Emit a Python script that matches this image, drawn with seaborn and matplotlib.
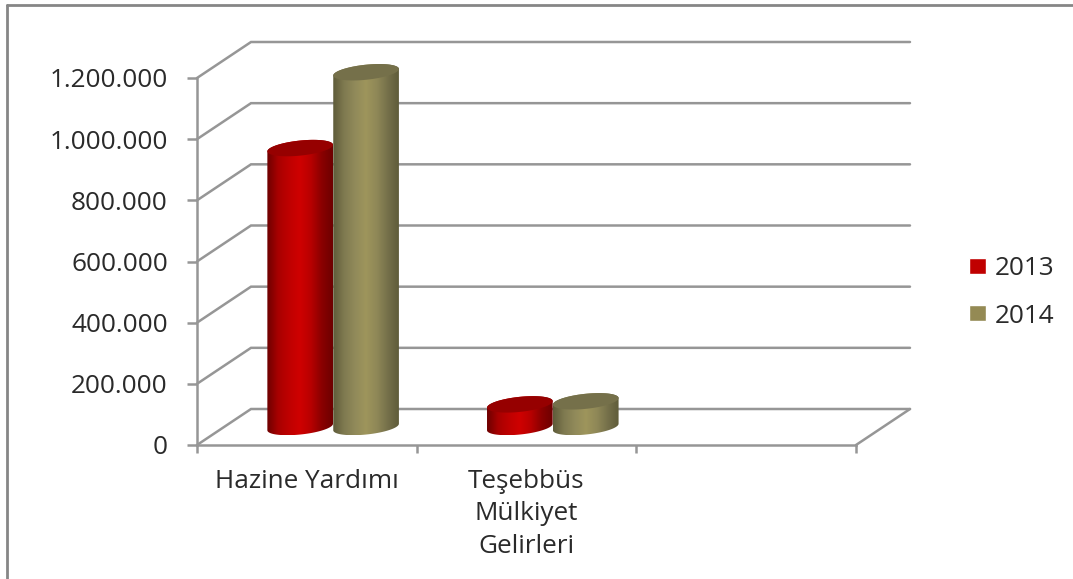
import numpy as np
import pandas as pd
import matplotlib
matplotlib.use("Agg")
import matplotlib.pyplot as plt
import seaborn as sns
from matplotlib.colors import LinearSegmentedColormap
from matplotlib.lines import Line2D
from matplotlib.patches import PathPatch, Polygon
from matplotlib.path import Path
from matplotlib.transforms import Affine2D

categories = ["Hazine Yardımı", "Teşebbüs\nMülkiyet\nGelirleri"]
blank_category = [""]
values_2013 = [912000, 74000]
values_2014 = [1160000, 84000]
series_names = ["2013", "2014"]
y_ticks = [0, 200000, 400000, 600000, 800000, 1000000, 1200000]
y_tick_labels = ["0", "200.000", "400.000", "600.000", "800.000", "1.000.000", "1.200.000"]

W, H = 1073, 579
GRID = "#969696"
TEXT = "#2a2a2a"
FS = 18.8
DEPTH_X, DEPTH_Y = 54, 36     # px depth of the fake 3-D floor
RADIUS, MINOR, TILT = 33, 7.5, np.deg2rad(6)
STYLE = {
    "2013": dict(base="#C00000", top="#960000",
                 ramp=["#6e0000", "#a80000", "#bf0000", "#cf0000", "#b80000", "#8a0000", "#6e0000"]),
    "2014": dict(base="#948A54", top="#75704A",
                 ramp=["#5f5c3a", "#7f7a50", "#918a5a", "#9e955c", "#8f8857", "#75704a", "#5f5c3a"]),
}

sns.set_theme(style="white")
plt.rcParams["font.family"] = ["Open Sans", "DejaVu Sans"]

fig = plt.figure(figsize=(W / 100, H / 100), dpi=100, facecolor="white")
ax = fig.add_axes([197 / W, (H - 445) / H, (856 - 197) / W, (445 - 78) / H])

df = pd.DataFrame({
    "category": categories * 2,
    "value": values_2013 + values_2014,
    "year": [series_names[0]] * len(categories) + [series_names[1]] * len(categories),
})
sns.barplot(data=df, x="category", y="value", hue="year",
            order=categories + blank_category, hue_order=series_names,
            palette=[STYLE[s]["base"] for s in series_names], saturation=1,
            width=0.6, gap=0.3, errorbar=None, ax=ax, zorder=3)

n = len(categories) + len(blank_category)
ax.set_xlim(-0.5, n - 0.5)
ax.set_ylim(y_ticks[0], y_ticks[-1])
ax.set_xlabel("")
ax.set_ylabel("")
ax.set_yticks(y_ticks)
ax.set_yticklabels(y_tick_labels, fontsize=FS, color=TEXT)
ax.set_xticks(range(n))
ax.set_xticklabels(categories + blank_category, fontsize=FS, color=TEXT, linespacing=1.4)
ax.set_xticks(np.arange(n + 1) - 0.5, minor=True)
ax.tick_params(axis="x", which="major", length=0, pad=17)
ax.tick_params(axis="x", which="minor", length=5.5, width=1.8, color=GRID, bottom=True)
ax.tick_params(axis="y", length=7, width=1.8, color=GRID, left=True, pad=14)
for side in ("top", "right"):
    ax.spines[side].set_visible(False)
for side in ("left", "bottom"):
    ax.spines[side].set_color(GRID)
    ax.spines[side].set_linewidth(1.8)

# overlay in pixel coordinates for the pseudo 3-D parts
ov = fig.add_axes([0, 0, 1, 1], zorder=5)
ov.set_xlim(0, W)
ov.set_ylim(H, 0)
ov.axis("off")
ov.patch.set_alpha(0)


def to_px(x, y):
    dx, dy = ax.transData.transform((x, y))
    return dx, H - dy


# walls: grid lines running back and then along the rear wall
x_left, _ = to_px(-0.5, 0)
x_right, y_floor = to_px(n - 0.5, 0)
for t in y_ticks:
    _, y = to_px(-0.5, t)
    ov.plot([x_left, x_left + DEPTH_X, x_right + DEPTH_X],
            [y, y - DEPTH_Y, y - DEPTH_Y], color=GRID, lw=1.8, zorder=1,
            solid_joinstyle="miter")
ov.plot([x_right, x_right + DEPTH_X], [y_floor, y_floor - DEPTH_Y],
        color=GRID, lw=1.8, zorder=1)


def ellipse_pts(cx, cy, t):
    px = cx + RADIUS * np.cos(t) * np.cos(TILT) - MINOR * np.sin(t) * np.sin(TILT)
    py = cy - (RADIUS * np.cos(t) * np.sin(TILT) + MINOR * np.sin(t) * np.cos(TILT))
    return np.column_stack([px, py])


t0 = np.arctan2(-MINOR * np.sin(TILT), RADIUS * np.cos(TILT))
z = 3
for name, container in zip(series_names, ax.containers):
    st = STYLE[name]
    cmap = LinearSegmentedColormap.from_list(name, st["ramp"])
    for bar in container:
        h = bar.get_height()
        if not np.isfinite(h) or h <= 0:
            continue
        # seat the bar in the middle of the floor depth
        bar.set_transform(ax.transData + Affine2D().translate(DEPTH_X / 2, DEPTH_Y / 2))
        cx, base_y = to_px(bar.get_x() + bar.get_width() / 2, 0)
        cx += DEPTH_X / 2 - 0.7
        base_y -= DEPTH_Y / 2
        top_y = base_y - (to_px(0, 0)[1] - to_px(0, h)[1])
        lower = ellipse_pts(cx, base_y, np.linspace(t0 + np.pi, t0 + 2 * np.pi, 60))
        upper = ellipse_pts(cx, top_y, np.linspace(t0, t0 + np.pi, 60))
        verts = np.vstack([lower, upper, lower[:1]])
        body = PathPatch(Path(verts), fc="none", ec="none", transform=ov.transData)
        ov.add_patch(body)
        xl, xr = verts[:, 0].min(), verts[:, 0].max()
        yt, yb = verts[:, 1].min(), verts[:, 1].max()
        im = ov.imshow(np.linspace(0, 1, 128)[None, :], cmap=cmap, aspect="auto",
                       extent=(xl, xr, yb, yt), zorder=z, interpolation="bilinear")
        im.set_clip_path(body)
        ring = ellipse_pts(cx, top_y, np.linspace(0, 2 * np.pi, 120))
        ov.add_patch(Polygon(ring, closed=True, fc=st["top"], ec="none", zorder=z + 0.5))
        z += 1
ov.set_xlim(0, W)
ov.set_ylim(H, 0)

# chart-area frame: visible only on the top and left
fig.add_artist(Line2D([7 / W, 7 / W], [0, 1 - 5 / H], color="#868686", lw=2))
fig.add_artist(Line2D([7 / W, 1], [1 - 5 / H, 1 - 5 / H], color="#868686", lw=2))

handles, labels = ax.get_legend_handles_labels()
ax.legend(handles, labels, loc="center left", bbox_to_anchor=(969 / W, (H - 292.5) / H),
          bbox_transform=fig.transFigure, frameon=False, fontsize=FS,
          handlelength=0.65, handleheight=0.55, handletextpad=0.33,
          labelspacing=0.85, labelcolor=TEXT, borderpad=0, borderaxespad=0)

fig.savefig("out.png", dpi=100, facecolor="white")
